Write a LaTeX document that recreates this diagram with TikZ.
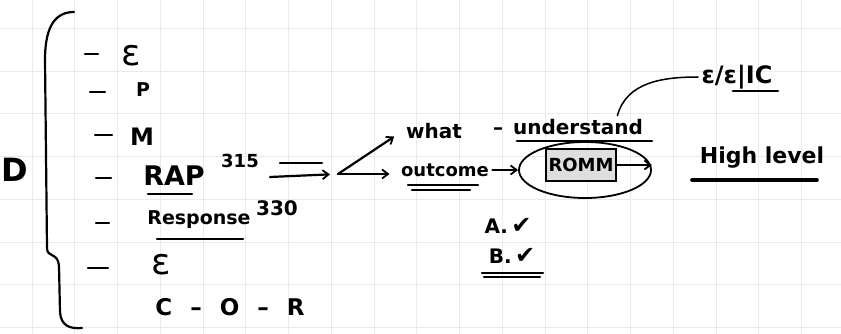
\documentclass[tikz,border=0pt]{standalone}
\usepackage{fontspec}
\setmainfont{DejaVu Sans}
\usetikzlibrary{arrows.meta,shapes.geometric}
\definecolor{notegrid}{RGB}{234,234,234}
\definecolor{notebox}{RGB}{222,222,222}

\begin{document}
\begin{tikzpicture}[x=1pt,y=-1pt,font=\bfseries\fontsize{20}{22}\selectfont,
  pen/.style={line width=2.2pt,line cap=round,line join=round},
  thin pen/.style={line width=1.5pt,line cap=round},
  tip/.style={-{Straight Barb[length=6pt,width=9pt,line width=1.8pt]}}]
\path[use as bounding box,fill=white] (0,0) rectangle (841,334);
\foreach \i in {0,...,18} {
  \draw[notegrid,line width=.8pt] (32+42.75*\i,0)--(32+42.75*\i,334);
}
\foreach \j in {0,...,7} {
  \draw[notegrid,line width=.8pt] (0,28.5+42.7*\j)--(841,28.5+42.7*\j);
}
% left column
\node[font=\bfseries\fontsize{32}{32}\selectfont] (d) at (15,170) {D};
\draw[pen] (74,12) .. controls (52,12) and (45,32) .. (45,60)
  -- (47,248) .. controls (47,258) and (58,252) .. (59,266)
  -- (60,312) .. controls (61,326) and (70,329) .. (82,328);
\foreach \x/\y/\l in {85/54/13, 90/92/15, 95/135/17, 96/178/15, 96/223/13, 88/268/20} {
  \draw[pen] (\x,\y)--++(\l,0);
}
\node[font=\mdseries\fontsize{36}{36}\selectfont] (ea) at (131,56) {ε};
\node[font=\bfseries\fontsize{19}{20}\selectfont] (p) at (143,90) {P};
\node[font=\bfseries\fontsize{24}{24}\selectfont] (m) at (142,137) {M};
\node[font=\bfseries\fontsize{27}{27}\selectfont] (rap) at (174,176) {RAP};
\node[font=\bfseries\fontsize{18}{18}\selectfont] (n315) at (240,161) {315};
\node[font=\bfseries\fontsize{19}{19}\selectfont] (resp) at (199,220) {Response};
\node[font=\bfseries\fontsize{20}{20}\selectfont] (n330) at (277,208) {330};
\node[font=\mdseries\fontsize{36}{36}\selectfont] (eb) at (161,265) {ε};
\node[font=\bfseries\fontsize{23}{23}\selectfont] (cor) at (230,307)
  {C\hspace{18pt}–\hspace{18pt}O\hspace{18pt}–\hspace{18pt}R};
\draw[pen] (148,194)--(192,194);
\draw[pen] (157,239)--(243,239);
% middle
\coordinate (eqtop) at (280,163);
\coordinate (eqbot) at (270,177);
\coordinate (fork) at (338,174);
\node (what) at (434,131) {what};
\node (dsh) at (498,131) {–};
\node (und) at (578,127) {understand};
\node[font=\bfseries\fontsize{18}{18}\selectfont] (outcome) at (445,170) {outcome};
\draw[pen] (eqtop)--++(42,0);
\draw[pen,tip,shorten >=8pt] (eqbot)--(fork);
\draw[pen,tip,shorten >=10pt] (fork)--(what.west);
\draw[pen,tip,shorten >=8pt] (fork)--(fork-|outcome.west);
\draw[pen] (517,141)--(652,141);
\draw[pen] (408,185)--(478,185);
\draw[pen] (412,190)--(470,190);
\node[draw,line width=1.6pt,fill=notebox,minimum width=70pt,minimum height=32pt,
  inner sep=0pt,font=\bfseries\fontsize{18}{18}\selectfont] (romm) at (581,165) {ROMM};
\node[ellipse,draw,line width=1.8pt,minimum width=132pt,minimum height=56pt] (ell) at (585,170) {};
\draw[pen,tip] (outcome.east)--(ell.west);
\draw[pen,tip] (romm.east)--(ell.east|-romm.east);
\node[font=\bfseries\fontsize{20}{20}\selectfont] (tka) at (508,226) {A.\,{\fontsize{24}{24}\selectfont ✔}};
\node[font=\bfseries\fontsize{20}{20}\selectfont] (tkb) at (512,256) {B.\,{\fontsize{24}{24}\selectfont ✔}};
\draw[pen] (482,273)--(543,273);
\draw[pen] (484,277)--(540,277);
% right side
\node[font=\bfseries\fontsize{24}{24}\selectfont] (eeic) at (737,77) {ε/ε|IC};
\draw[thin pen] ([xshift=-29pt]und.north east) to[out=75,in=180] (eeic.west);
\draw[pen] (733,91)--(778,91);
\node[font=\bfseries\fontsize{22}{22}\selectfont] (high) at (762,158) {High level};
\draw[line width=3.6pt,line cap=round] (692,180)--(817,180);
\end{tikzpicture}
\end{document}
